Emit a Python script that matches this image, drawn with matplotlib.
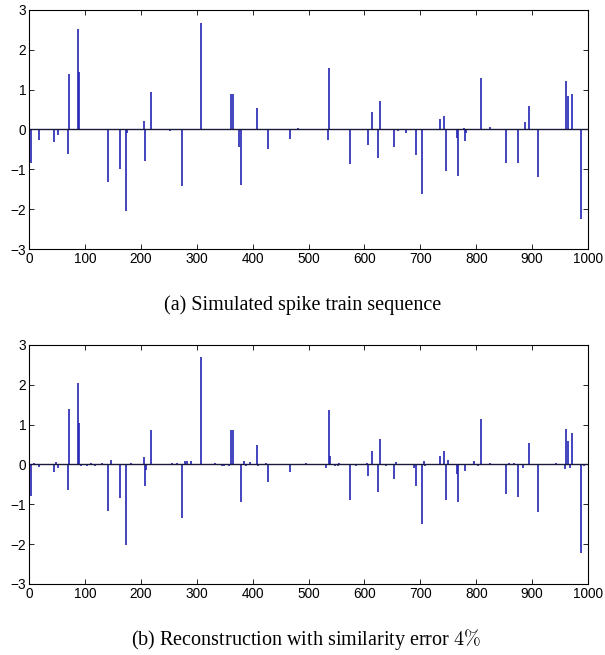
import numpy as np
import matplotlib.pyplot as plt

# (a) simulated spike train: positions and amplitudes
orig_pos = [3, 17, 45, 51, 69, 72, 88, 90, 142, 163, 173, 175, 205, 207, 218,
            252, 274, 308, 362, 364, 376, 379, 407, 427, 467, 481,
            534, 537, 575, 607, 613, 625, 628, 653, 660, 674, 692, 703,
            735, 742, 745, 765, 768, 778, 779, 781, 809, 825, 854, 875,
            888, 894, 911, 961, 964, 971, 987]
orig_amp = [-0.85, -0.27, -0.31, -0.14, -0.62, 1.40, 2.53, 1.45, -1.33, -0.98, -2.05, -0.10, 0.22, -0.80, 0.95,
            -0.05, -1.42, 2.68, 0.90, 0.88, -0.45, -1.40, 0.55, -0.50, -0.23, 0.03,
            -0.27, 1.55, -0.87, -0.40, 0.45, -0.72, 0.72, -0.43, -0.05, -0.08, -0.65, -1.63,
            0.27, 0.35, -1.05, -0.22, -1.17, 0.05, -0.30, -0.08, 1.30, 0.07, -0.83, -0.83,
            0.20, 0.60, -1.20, 1.22, 0.83, 0.88, -2.25]

# (b) reconstruction
rec_pos = [3, 8, 17, 45, 48, 51, 69, 72, 88, 90, 93, 103, 110, 118, 131,
           142, 147, 163, 173, 182, 205, 207, 209, 218, 256, 264,
           274, 279, 282, 290, 308, 333, 345, 348, 358, 362, 364, 379,
           385, 389, 395, 407, 410, 423, 427, 467, 495,
           532, 536, 539, 547, 552, 555, 575, 585, 605, 607, 613, 625, 628,
           638, 653, 656, 689, 692, 703, 706, 708, 735, 742, 745, 750,
           765, 768, 779, 796, 803, 809, 825, 854, 858, 868, 875, 883,
           894, 911, 942, 958, 961, 964, 967, 971, 987, 993]
rec_amp = [-0.80, 0.03, -0.07, -0.20, 0.05, -0.08, -0.65, 1.38, 2.05, 1.03, -0.05, -0.05, 0.03, -0.04, 0.04,
           -1.17, 0.12, -0.85, -2.02, 0.03, 0.18, -0.55, -0.15, 0.86, 0.04, 0.04,
           -1.35, 0.08, 0.08, 0.08, 2.70, 0.04, -0.04, -0.04, -0.05, 0.87, 0.86, -0.93,
           0.08, -0.05, 0.05, 0.48, -0.05, 0.03, -0.45, -0.20, 0.03,
           -0.08, 1.37, 0.22, -0.05, -0.03, 0.03, -0.88, -0.05, 0.04, -0.28, 0.35, -0.70, 0.65,
           -0.04, -0.37, 0.05, -0.10, -0.55, -1.50, 0.08, -0.05, 0.22, 0.35, -0.88, 0.12,
           -0.25, -0.93, -0.17, 0.08, -0.05, 1.15, 0.04, -0.75, 0.03, 0.04, -0.82, -0.10,
           0.55, -1.20, 0.04, -0.12, 0.88, 0.60, -0.10, 0.80, -2.23, -0.04]

captions = ['(a) Simulated spike train sequence',
            r'(b) Reconstruction with similarity error $4\%$']

plt.rcParams['mathtext.fontset'] = 'cm'
plt.rcParams['font.family'] = 'Liberation Sans'

fig = plt.figure(figsize=(6.05, 6.55), dpi=100)
ax_a = fig.add_axes([0.048, 0.6198, 0.924, 0.365])
ax_b = fig.add_axes([0.048, 0.1084, 0.924, 0.365])

for ax, pos, amp in [(ax_a, orig_pos, orig_amp), (ax_b, rec_pos, rec_amp)]:
    ax.vlines(pos, 0, amp, color='#2424b4', lw=1.2)
    ax.axhline(0, color='#1a1a3a', lw=1.0)
    ax.set_xlim(0, 1000)
    ax.set_ylim(-3, 3)
    ax.set_xticks(np.arange(0, 1001, 100))
    ax.set_yticks(np.arange(-3, 4, 1))
    ax.tick_params(direction='in', top=True, right=True, labelsize=9.8,
                   length=3.5, width=0.6, pad=2)
    for s in ax.spines.values():
        s.set_linewidth(0.8)

fig.text(0.500, 0.534, captions[0], ha='center', va='center',
         family='Liberation Serif', fontsize=14.5)
fig.text(0.506, 0.024, captions[1], ha='center', va='center',
         family='Liberation Serif', fontsize=14.5)

fig.savefig('out.png', dpi=100)
